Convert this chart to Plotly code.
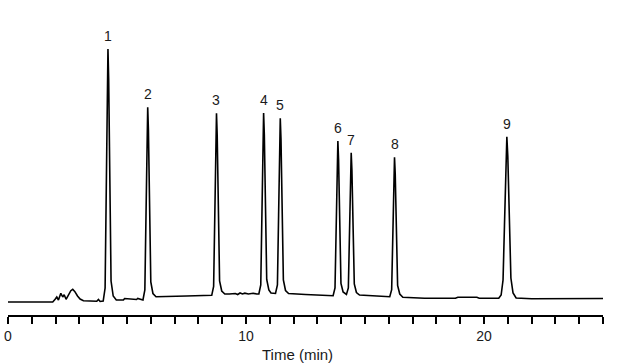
import plotly.graph_objects as go

# Chromatogram trace (time in min, detector signal in arbitrary units)
time_min = [
    0.00, 1.88, 1.98, 2.05, 2.12, 2.22, 2.30, 2.36, 2.44, 2.54, 2.64, 2.72, 2.81, 2.92, 3.03, 3.17,
    3.45, 3.73, 3.80, 3.87,
    # peak 1
    4.00, 4.08, 4.13, 4.17, 4.20, 4.23, 4.28, 4.33, 4.42, 4.55,
    4.85, 4.90, 5.40, 5.45,
    # peak 2
    5.67, 5.75, 5.80, 5.84, 5.87, 5.90, 5.95, 6.00, 6.09, 6.22,
    7.50,
    # peak 3
    8.56, 8.64, 8.69, 8.73, 8.76, 8.79, 8.84, 8.89, 8.98, 9.11,
    9.30, 9.55, 9.65, 9.75, 9.85, 9.95, 10.10, 10.30, 10.45,
    # peak 4
    10.54, 10.62, 10.67, 10.71, 10.74, 10.77, 10.82, 10.87, 10.96, 11.05,
    # peak 5
    11.24, 11.32, 11.37, 11.41, 11.44, 11.47, 11.52, 11.57, 11.66, 11.79,
    12.50, 13.50,
    # peak 6
    13.66, 13.74, 13.79, 13.83, 13.86, 13.89, 13.94, 13.99, 14.08,
    # peak 7
    14.22, 14.30, 14.35, 14.39, 14.42, 14.45, 14.50, 14.55, 14.64, 14.77,
    15.50,
    # peak 8
    16.04, 16.12, 16.17, 16.21, 16.24, 16.27, 16.32, 16.37, 16.46, 16.59,
    17.50, 18.80, 18.90, 19.70, 19.80,
    # peak 9
    20.62, 20.72, 20.80, 20.86, 20.92, 20.96, 21.00, 21.07, 21.13, 21.22, 21.35,
    22.00, 25.00,
]
signal = [
    13.0, 13.0, 15.7, 18.0, 15.0, 21.7, 18.0, 20.3, 15.7, 20.0, 24.3, 25.7, 23.3, 19.0, 16.0, 14.3,
    13.7, 13.7, 15.5, 13.5,
    14.0, 27.0, 127.0, 236.0, 266.0, 236.0, 127.0, 34.0, 19.0, 15.0,
    15.0, 16.5, 15.5, 16.5,
    15.0, 25.0, 102.0, 185.0, 207.7, 185.0, 104.0, 33.0, 21.5, 18.3,
    19.0,
    19.7, 28.7, 101.7, 179.7, 201.7, 179.7, 101.7, 34.0, 24.0, 21.0,
    21.0, 21.5, 20.5, 22.0, 21.0, 21.8, 21.0, 21.8, 21.0,
    21.0, 30.0, 102.5, 180.0, 202.0, 180.0, 102.5, 35.5, 25.0, 22.0,
    21.5, 30.0, 100.0, 175.6, 196.7, 175.6, 100.0, 35.0, 24.5, 21.5,
    20.5, 19.5,
    19.3, 27.0, 89.0, 155.0, 174.0, 155.0, 89.0, 31.5, 23.0,
    20.5, 27.0, 84.0, 145.0, 162.3, 145.0, 84.0, 31.0, 22.5, 20.0,
    19.0,
    18.3, 25.3, 81.0, 141.0, 157.7, 141.0, 81.0, 29.5, 21.0, 17.7,
    16.7, 16.7, 17.7, 17.7, 16.7,
    16.7, 20.0, 35.0, 89.4, 158.9, 178.3, 158.9, 89.4, 37.0, 22.0, 17.0,
    16.3, 16.5,
]

# Peak labels
peak_labels = ["1", "2", "3", "4", "5", "6", "7", "8", "9"]
peak_times = [4.20, 5.87, 8.76, 10.74, 11.44, 13.86, 14.42, 16.24, 20.96]
peak_heights = [266.0, 207.7, 201.7, 202.0, 196.7, 174.0, 162.3, 157.7, 178.3]

tick_values = [0, 10, 20]
tick_labels = ["0", "10", "20"]

FONT = "Liberation Sans, Arial, sans-serif"

fig = go.Figure()
fig.add_trace(go.Scatter(
    x=time_min, y=signal, mode="lines",
    line=dict(color="#000000", width=1.6),
    hoverinfo="skip", showlegend=False,
))

for lab, t, h in zip(peak_labels, peak_times, peak_heights):
    fig.add_annotation(
        x=t, y=h, text=lab, showarrow=False,
        xanchor="center", yanchor="bottom", yshift=3,
        font=dict(family=FONT, size=14, color="#1a1a1a"),
    )

fig.add_annotation(
    x=0.4866, y=0, xref="paper", yref="paper", text="Time (min)",
    showarrow=False, xanchor="center", yanchor="middle", yshift=-39,
    font=dict(family=FONT, size=15, color="#1a1a1a"),
)

fig.update_layout(
    width=617, height=363,
    margin=dict(l=8, r=14, t=20, b=48, autoexpand=False),
    paper_bgcolor="white", plot_bgcolor="white",
    showlegend=False,
    xaxis=dict(
        range=[0, 25], showgrid=False, zeroline=False, automargin=False,
        showline=True, linecolor="#000000", linewidth=2,
        tickmode="array", tickvals=tick_values, ticktext=tick_labels,
        ticks="outside", ticklen=7, tickwidth=1.5, tickcolor="#000000",
        tickfont=dict(family=FONT, size=14, color="#1a1a1a"),
        minor=dict(dtick=1, tick0=0, ticks="outside", ticklen=7, tickwidth=1.5,
                   tickcolor="#000000", showgrid=False),
        fixedrange=True,
    ),
    yaxis=dict(range=[0, 295], visible=False, fixedrange=True),
)

fig.write_html(
    "out.html",
    config={"displayModeBar": False},
    post_script="document.body.style.margin='0';document.body.style.padding='0';"
                "document.body.style.overflow='hidden';",
)
